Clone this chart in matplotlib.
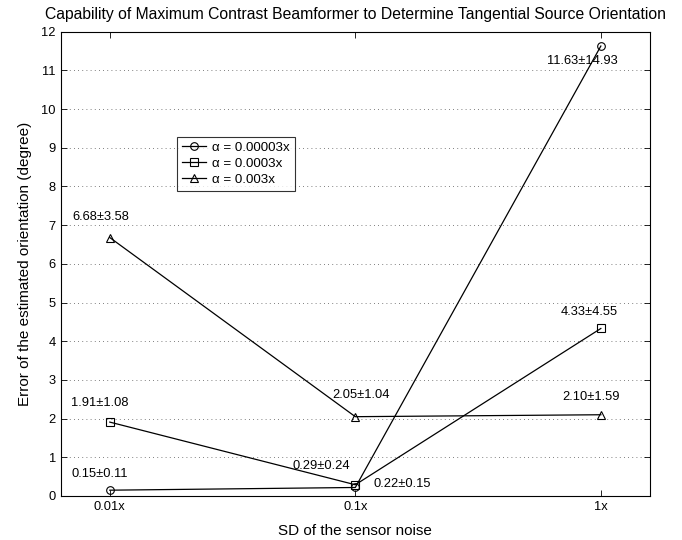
"""Capability of Maximum Contrast Beamformer - orientation error vs sensor noise."""

import matplotlib.pyplot as plt
import numpy as np
from matplotlib.ticker import NullLocator

plt.rcParams["font.family"] = ["Liberation Sans", "DejaVu Sans"]

# data
noise_sd = [0.01, 0.1, 1.0]
noise_labels = ["0.01x", "0.1x", "1x"]
series_names = ["\u03b1 = 0.00003x", "\u03b1 = 0.0003x", "\u03b1 = 0.003x"]
err_a1 = [0.15, 0.22, 11.63]
sd_a1 = [0.11, 0.15, 14.93]
err_a2 = [1.91, 0.29, 4.33]
sd_a2 = [1.08, 0.24, 4.55]
err_a3 = [6.68, 2.05, 2.10]
sd_a3 = [3.58, 1.04, 1.59]

# annotation anchors (log10 x, y) picked to match the original layout
label_pos = {
    "a1": [(-2.042, 0.57), (-0.809, 0.31), (-0.077, 11.24)],
    "a2": [(-2.040, 2.41), (-1.140, 0.78), (-0.049, 4.75)],
    "a3": [(-2.036, 7.22), (-0.975, 2.62), (-0.040, 2.55)],
}

FS = 9.3


def main() -> None:
    fig = plt.figure(figsize=(6.82, 5.40), dpi=100)
    ax = fig.add_axes([0.089, 0.0815, 0.864, 0.8597])

    series = [
        ("a1", err_a1, sd_a1, "o"),
        ("a2", err_a2, sd_a2, "s"),
        ("a3", err_a3, sd_a3, "^"),
    ]
    for (key, err, sd, mk), name in zip(series, series_names):
        ax.plot(noise_sd, err, color="black", lw=0.9, marker=mk, ms=5.5,
                mfc="none", mec="black", mew=0.8, label=name)
        for (lx, ly), m, s in zip(label_pos[key], err, sd):
            ax.text(10 ** lx, ly, f"{m:.2f}\u00b1{s:.2f}", ha="center",
                    va="center", fontsize=FS)

    ax.set_xscale("log")
    ax.set_xlim(10 ** -2.2, 10 ** 0.2)
    ax.set_ylim(0, 12)
    ax.set_xticks(noise_sd)
    ax.set_xticklabels(noise_labels)
    ax.xaxis.set_minor_locator(NullLocator())
    ax.set_yticks(np.arange(0, 13, 1))
    ax.tick_params(direction="in", top=True, right=True, labelsize=FS,
                   length=4, width=0.6)
    ax.yaxis.grid(True, ls=(0, (1, 4)), color="#555555", lw=0.6)
    for sp in ax.spines.values():
        sp.set_linewidth(0.8)

    ax.set_xlabel("SD of the sensor noise", fontsize=11, labelpad=8)
    ax.set_ylabel("Error of the estimated orientation (degree)",
                  fontsize=11, labelpad=7)
    ax.set_title("Capability of Maximum Contrast Beamformer to Determine "
                 "Tangential Source Orientation", fontsize=11.3, pad=9)

    leg = ax.legend(loc="upper left", bbox_to_anchor=(177 / 682, 1 - 137 / 540),
                    bbox_transform=fig.transFigure, fontsize=FS + 0.3,
                    frameon=True, fancybox=False, edgecolor="black",
                    borderpad=0.35, labelspacing=0.28, handlelength=1.8,
                    handletextpad=0.5, borderaxespad=0)
    leg.get_frame().set_linewidth(0.8)

    fig.savefig("out.png", dpi=100)


if __name__ == "__main__":
    main()
